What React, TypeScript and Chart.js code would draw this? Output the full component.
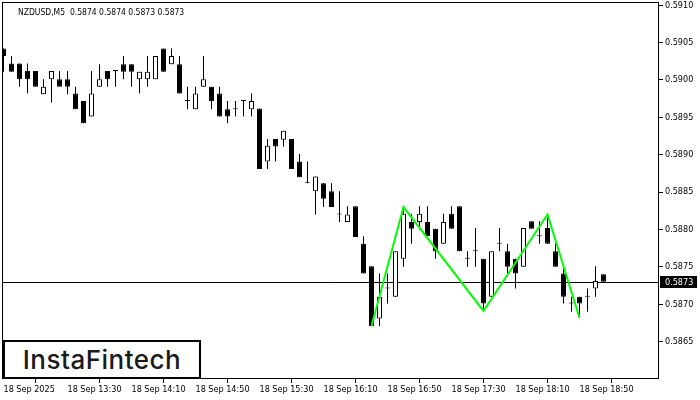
import React, { useEffect, useRef } from "react";
import { Chart, registerables } from "chart.js";

Chart.register(...registerables);

// ---- data (NZDUSD, M5) ----
const OPEN = [
  0.59042, 0.59022, 0.59022, 0.59012, 0.59012, 0.58981, 0.59001, 0.59001, 0.59001, 0.58982,
  0.58972, 0.58951, 0.58991, 0.59012, 0.59012, 0.59021, 0.59021, 0.59001, 0.59001, 0.59001,
  0.59042, 0.59021, 0.59021, 0.58972, 0.58961, 0.58991, 0.58991, 0.58982, 0.58961, 0.58961,
  0.58972, 0.58961, 0.58962, 0.58891, 0.58921, 0.5892, 0.58921, 0.58891, 0.58862, 0.58851,
  0.58862, 0.58851, 0.5882, 0.5881, 0.58831, 0.58781, 0.58751, 0.58681, 0.58721, 0.5871,
  0.58761, 0.5881, 0.5881, 0.5881, 0.58801, 0.58781, 0.58821, 0.58831, 0.58761, 0.58771,
  0.58761, 0.5871, 0.58781, 0.58771, 0.58761, 0.5875, 0.58811, 0.58791, 0.58802, 0.58771,
  0.58741, 0.58701, 0.5871, 0.5871, 0.58721, 0.5874,
];
const HIGH = [
  0.59042, 0.59032, 0.59022, 0.59022, 0.59012, 0.59001, 0.59012, 0.59012, 0.59012, 0.58991,
  0.58972, 0.59012, 0.59021, 0.59012, 0.59012, 0.59032, 0.59021, 0.59011, 0.59032, 0.59032,
  0.59042, 0.59042, 0.59032, 0.58991, 0.58991, 0.59032, 0.58991, 0.58991, 0.58972, 0.58972,
  0.58972, 0.58982, 0.58962, 0.58921, 0.58921, 0.58932, 0.58921, 0.58901, 0.58891, 0.58871,
  0.58862, 0.58862, 0.58851, 0.58831, 0.58831, 0.58791, 0.58751, 0.58741, 0.58741, 0.58771,
  0.5883, 0.58821, 0.58831, 0.58831, 0.58801, 0.58821, 0.58831, 0.58831, 0.58771, 0.58802,
  0.58761, 0.58771, 0.58802, 0.58781, 0.58761, 0.58802, 0.58811, 0.58811, 0.5882, 0.58781,
  0.5875, 0.5871, 0.5871, 0.58721, 0.58751, 0.5874,
];
const LOW = [
  0.59011, 0.59011, 0.58991, 0.58982, 0.58991, 0.58981, 0.5897, 0.58991, 0.58981, 0.58961,
  0.58942, 0.58951, 0.58991, 0.58991, 0.58991, 0.59001, 0.58991, 0.58982, 0.58991, 0.59001,
  0.59011, 0.59021, 0.58982, 0.58961, 0.58961, 0.58991, 0.58961, 0.58951, 0.58942, 0.58951,
  0.58951, 0.58951, 0.58881, 0.58881, 0.58891, 0.58911, 0.58881, 0.5887, 0.58862, 0.5882,
  0.5883, 0.5883, 0.5881, 0.5881, 0.5879, 0.58741, 0.58671, 0.58671, 0.58701, 0.5871,
  0.5875, 0.58781, 0.588, 0.58791, 0.58761, 0.58781, 0.58801, 0.58771, 0.5875, 0.5875,
  0.58691, 0.5871, 0.58771, 0.58741, 0.58721, 0.5875, 0.58801, 0.58781, 0.58781, 0.5875,
  0.58701, 0.5869, 0.58682, 0.5869, 0.5871, 0.5873,
];
const CLOSE = [
  0.59032, 0.59011, 0.59001, 0.59001, 0.58991, 0.58991, 0.59012, 0.58991, 0.58991, 0.58961,
  0.58942, 0.58982, 0.59001, 0.59001, 0.59012, 0.59011, 0.59011, 0.59011, 0.59011, 0.59032,
  0.59011, 0.59032, 0.58982, 0.58972, 0.58982, 0.59001, 0.58972, 0.58951, 0.58951, 0.58961,
  0.58972, 0.58972, 0.58881, 0.58912, 0.58911, 0.58932, 0.58881, 0.5887, 0.58862, 0.58871,
  0.58841, 0.5883, 0.5882, 0.5882, 0.5879, 0.58741, 0.58671, 0.5871, 0.58721, 0.58771,
  0.58821, 0.58801, 0.58821, 0.58791, 0.58771, 0.5881, 0.58801, 0.58771, 0.58761, 0.58771,
  0.58701, 0.58771, 0.58781, 0.5875, 0.58741, 0.58802, 0.58801, 0.58791, 0.58781, 0.5875,
  0.5871, 0.58701, 0.58701, 0.5871, 0.58731, 0.5873,
];

// pattern (triple top) line vertices: bar index + price
const PATTERN_BAR = [46, 50, 60, 68, 72];
const PATTERN_PRICE = [0.58671, 0.5883, 0.58691, 0.5882, 0.58682];

const CURRENT_PRICE = 0.5873;
const HEADER = "NZDUSD,M5  0.5874 0.5874 0.5873 0.5873";
const X_TICK_LABELS = [
  "18 Sep 2025", "18 Sep 13:30", "18 Sep 14:10", "18 Sep 14:50", "18 Sep 15:30",
  "18 Sep 16:10", "18 Sep 16:50", "18 Sep 17:30", "18 Sep 18:10", "18 Sep 18:50",
];
const BARS_PER_LABEL = 8;
const Y_TICKS = [0.5865, 0.587, 0.5875, 0.588, 0.5885, 0.589, 0.5895, 0.59, 0.5905, 0.591];
const Y_MIN = 0.586;
const Y_MAX = 0.59103;
const X_MIN = -0.0625;
const VISIBLE_BARS = 82;

const FONT = "'DejaVu Sans Condensed', 'Liberation Sans', sans-serif";

const framePlugin = {
  id: "mtFrame",
  beforeDatasetsDraw(chart: any) {
    const { ctx, chartArea, scales } = chart;
    const py = Math.round(scales.y.getPixelForValue(CURRENT_PRICE)) + 0.5;
    ctx.save();
    ctx.strokeStyle = "#000";
    ctx.lineWidth = 1;
    ctx.beginPath();
    ctx.moveTo(chartArea.left - 1, py);
    ctx.lineTo(chartArea.right, py);
    ctx.stroke();
    ctx.restore();
  },
  afterDraw(chart: any) {
    const { ctx, chartArea, scales } = chart;
    const { left, top, right, bottom } = chartArea;
    ctx.save();
    ctx.strokeStyle = "#000";
    ctx.lineWidth = 1;
    ctx.strokeRect(Math.round(left) - 0.5, Math.round(top) - 0.5, Math.round(right - left), Math.round(bottom - top));
    const py = Math.round(scales.y.getPixelForValue(CURRENT_PRICE));
    ctx.fillStyle = "#000";
    ctx.fillRect(Math.round(right) + 1, py - 6, 37, 12);
    ctx.fillStyle = "#fff";
    ctx.font = `9px ${FONT}`;
    ctx.textBaseline = "middle";
    ctx.textAlign = "left";
    ctx.fillText(CURRENT_PRICE.toFixed(4), Math.round(right) + 6, py + 0.5);
    ctx.restore();
  },
};

export default function App() {
  const ref = useRef<HTMLCanvasElement | null>(null);

  useEffect(() => {
    document.body.style.margin = "0";
    const canvas = ref.current;
    if (!canvas) return;
    const idx = OPEN.map((_, i) => i);
    const bodies = idx.map((i) => ({ x: i, y: [OPEN[i], CLOSE[i]] }));
    const wicks = idx.map((i) => ({ x: i, y: [LOW[i], HIGH[i]] }));
    const bodyBg = idx.map((i) => (CLOSE[i] < OPEN[i] ? "#000" : "#fff"));
    const pattern = PATTERN_BAR.map((b, k) => ({ x: b, y: PATTERN_PRICE[k] }));

    const chart = new Chart(canvas, {
      type: "bar",
      data: {
        datasets: [
          {
            type: "line",
            data: pattern,
            borderColor: "#00ff00",
            borderWidth: 2,
            pointRadius: 0,
            tension: 0,
            fill: false,
            order: 0,
          } as any,
          {
            type: "bar",
            data: bodies,
            backgroundColor: bodyBg,
            borderColor: "#000",
            borderWidth: 1,
            borderSkipped: false,
            barThickness: 5,
            minBarLength: 1,
            inflateAmount: 0,
            grouped: false,
            order: 1,
          } as any,
          {
            type: "bar",
            data: wicks,
            backgroundColor: "#000",
            borderWidth: 0,
            barThickness: 1,
            inflateAmount: 0,
            grouped: false,
            order: 2,
          } as any,
        ],
      },
      options: {
        responsive: false,
        animation: false,
        devicePixelRatio: 1,
        layout: { padding: { top: 3, left: 3, right: 0, bottom: 0 } },
        plugins: { legend: { display: false }, tooltip: { enabled: false }, title: { display: false } },
        scales: {
          x: {
            type: "linear",
            position: "bottom",
            min: X_MIN,
            max: X_MIN + VISIBLE_BARS,
            offset: false,
            afterBuildTicks: (s: any) => {
              s.ticks = X_TICK_LABELS.map((_, k) => ({ value: k * BARS_PER_LABEL }));
            },
            afterFit: (s: any) => {
              s.height = 21;
              s.paddingLeft = 0;
              s.paddingRight = 0;
            },
            ticks: {
              callback: (_v: any, i: number) => X_TICK_LABELS[i],
              align: "start",
              padding: 1,
              autoSkip: false,
              maxRotation: 0,
              color: "#000",
              font: { family: FONT, size: 9 },
            },
            grid: { drawOnChartArea: false, drawTicks: true, tickLength: 4, color: "#000", lineWidth: 1 },
            border: { display: false },
          },
          y: {
            type: "linear",
            position: "right",
            min: Y_MIN,
            max: Y_MAX,
            afterBuildTicks: (s: any) => {
              s.ticks = Y_TICKS.map((v) => ({ value: v }));
            },
            afterFit: (s: any) => {
              s.width = 41;
              s.paddingTop = 0;
              s.paddingBottom = 0;
            },
            ticks: {
              callback: (v: any) => Number(v).toFixed(4),
              padding: 2,
              color: "#000",
              font: { family: FONT, size: 9 },
            },
            grid: { drawOnChartArea: false, drawTicks: true, tickLength: 4, color: "#000", lineWidth: 1 },
            border: { display: false },
          },
        },
      } as any,
      plugins: [framePlugin],
    });
    return () => chart.destroy();
  }, []);

  return (
    <div style={{ position: "relative", width: 700, height: 400, background: "#fff" }}>
      <canvas ref={ref} width={700} height={400} style={{ display: "block" }} />
      <div
        style={{
          position: "absolute",
          left: 18,
          top: 7,
          font: `8.5px ${FONT}`,
          color: "#000",
          whiteSpace: "pre",
        }}
      >
        {HEADER}
      </div>
      <div
        style={{
          position: "absolute",
          left: 3,
          top: 340,
          width: 198,
          height: 39,
          boxSizing: "border-box",
          border: "2px solid #000",
          background: "#fff",
          display: "flex",
          alignItems: "center",
          justifyContent: "center",
          fontFamily: "Inter, 'Noto Sans', sans-serif",
          fontSize: 26,
          fontWeight: 500,
          letterSpacing: 0.5,
          color: "#1a1a1a",
        }}
      >
        InstaFintech
      </div>
    </div>
  );
}
